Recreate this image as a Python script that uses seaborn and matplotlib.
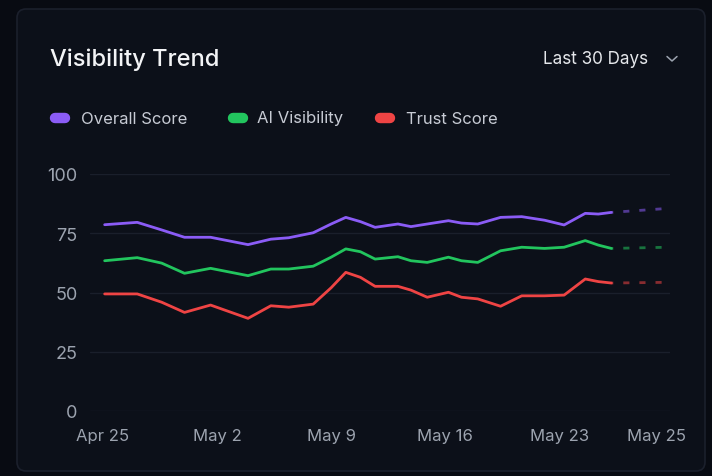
import numpy as np
import pandas as pd
import matplotlib
matplotlib.use("Agg")
import matplotlib.pyplot as plt
from matplotlib.patches import FancyBboxPatch
from matplotlib.lines import Line2D
import seaborn as sns

# ---- data (day offset from Apr 25) ----
days = [0.1, 2.1, 3.6, 5.0, 6.6, 8.9, 10.3, 11.4, 12.9, 14.0, 14.9, 15.8, 16.7,
        18.1, 18.9, 19.9, 21.2, 22.0, 23.0, 24.4, 25.7, 27.1, 28.3, 29.6, 30.4, 31.2]
overall = [78.6, 79.6, 76.4, 73.3, 73.3, 70.2, 72.5, 73.1, 75.2, 78.9, 81.7, 79.9, 77.5,
           78.9, 77.8, 78.9, 80.3, 79.3, 78.9, 81.7, 82.0, 80.5, 78.5, 83.4, 83.1, 83.8]
ai_vis = [63.4, 64.7, 62.4, 58.1, 60.2, 57.1, 59.9, 59.9, 61.1, 64.9, 68.4, 67.2, 64.1,
          65.1, 63.4, 62.7, 64.9, 63.4, 62.7, 67.6, 69.1, 68.6, 69.1, 71.9, 70.0, 68.6]
trust = [49.4, 49.4, 45.9, 41.6, 44.7, 39.1, 44.4, 43.8, 45.1, 52.0, 58.5, 56.4, 52.6,
         52.6, 51.0, 48.0, 50.1, 48.0, 47.3, 44.2, 48.6, 48.6, 48.9, 55.7, 54.6, 54.0]

forecast_days = [31.2, 34.7]
overall_fc = [83.8, 85.5]
ai_vis_fc = [68.6, 69.1]
trust_fc = [54.0, 54.3]

series_names = ["Overall Score", "AI Visibility", "Trust Score"]
tick_days = [0, 7, 14, 21, 28, 34]
tick_labels = ["Apr 25", "May 2", "May 9", "May 16", "May 23", "May 25"]
y_ticks = [0, 25, 50, 75, 100]

colors = {"Overall Score": "#8b5cf6", "AI Visibility": "#22c55e", "Trust Score": "#ef4444"}

df = pd.DataFrame({
    "day": days * 3,
    "value": overall + ai_vis + trust,
    "series": sum([[n] * len(days) for n in series_names], []),
})
df_fc = pd.DataFrame({
    "day": forecast_days * 3,
    "value": overall_fc + ai_vis_fc + trust_fc,
    "series": sum([[n] * len(forecast_days) for n in series_names], []),
})

sns.set_theme(style="dark")
plt.rcParams["font.family"] = ["Inter", "DejaVu Sans"]

W, H = 712, 477
fig = plt.figure(figsize=(W / 100, H / 100), dpi=100)
bg = "#080b12"
card = "#0c1019"
fig.patch.set_facecolor(bg)

# card
fig.patches.append(FancyBboxPatch((17, 5), 688, 462, boxstyle="round,pad=0,rounding_size=9",
                                  transform=None, facecolor=card, edgecolor="#1b202c",
                                  linewidth=1.2, zorder=-5))

ax = fig.add_axes([90 / W, 1 - 412 / H, (670 - 90) / W, (412 - 175) / H])
ax.set_zorder(2)
ax.set_facecolor("none")

sns.lineplot(data=df, x="day", y="value", hue="series", palette=colors, ax=ax,
             linewidth=2.0, legend=False, estimator=None, sort=False)
sns.lineplot(data=df_fc, x="day", y="value", hue="series", palette=colors, ax=ax,
             linewidth=2.0, legend=False, estimator=None, sort=False, alpha=0.55)
lines = ax.get_lines()
for ln in lines[3:]:
    ln.set_linestyle((1.5, (2.2, 3.6)))
    ln.set_dash_capstyle("butt")
for ln in lines[:3]:
    ln.set_solid_joinstyle("round")
    ln.set_solid_capstyle("round")

ax.set_xlim(-0.8, 34.8)
ax.set_ylim(0, 100)
ax.set_yticks(y_ticks)
ax.set_xticks(tick_days)
ax.set_xticklabels(tick_labels)
ax.set_xlabel("")
ax.set_ylabel("")
for s in ax.spines.values():
    s.set_visible(False)
ax.grid(False)
for yv in y_ticks:
    ax.axhline(yv, color="#1a1f2b", linewidth=1.0, zorder=0)

ax.tick_params(axis="y", colors="#9ca3af", labelsize=13, length=0, pad=9)
ax.tick_params(axis="x", colors="#1f2533", labelcolor="#9ca3af", labelsize=12,
               length=2, width=1, direction="in", pad=12)

# title & dropdown
fig.text(50 / W, 1 - 60 / H, "Visibility Trend", color="#f3f4f6", fontsize=17,
         fontweight="medium", ha="left", va="center")
fig.text(648 / W, 1 - 60 / H, "Last 30 Days", color="#e5e7eb", fontsize=12.3,
         ha="right", va="center")
fig.add_artist(Line2D([667 / W, 672 / W, 677 / W], [1 - 57.5 / H, 1 - 62 / H, 1 - 57.5 / H],
                      transform=fig.transFigure, color="#9ca3af", linewidth=1.1))

# legend
leg_pos = [(50, 81), (228, 257), (375, 406)]
for name, (px, tx) in zip(series_names, leg_pos):
    fig.add_artist(Line2D([(px + 5) / W, (px + 15) / W], [1 - 119 / H, 1 - 119 / H],
                          transform=fig.transFigure, color=colors[name], linewidth=7.5,
                          solid_capstyle="round"))
    fig.text(tx / W, 1 - 119 / H, name, color="#c7cbd4", fontsize=12, ha="left", va="center")

fig.savefig("out.png", dpi=100, facecolor=bg)
